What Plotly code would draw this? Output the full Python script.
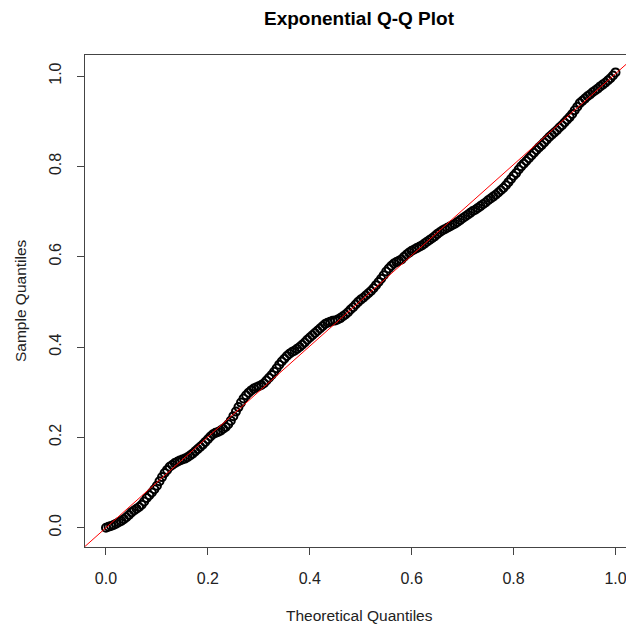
import plotly.graph_objects as go

# Theoretical quantiles (x) and sorted sample quantiles (y)
theoretical = [
    0.000, 0.005, 0.010, 0.015, 0.020, 0.025, 0.030, 0.035, 0.040, 0.045,
    0.050, 0.055, 0.060, 0.065, 0.070, 0.075, 0.080, 0.085, 0.090, 0.095,
    0.100, 0.105, 0.110, 0.115, 0.120, 0.125, 0.130, 0.135, 0.140, 0.145,
    0.150, 0.155, 0.160, 0.165, 0.170, 0.175, 0.180, 0.185, 0.190, 0.195,
    0.200, 0.205, 0.210, 0.215, 0.220, 0.225, 0.230, 0.235, 0.240, 0.245,
    0.250, 0.255, 0.260, 0.265, 0.270, 0.275, 0.280, 0.285, 0.290, 0.295,
    0.300, 0.305, 0.310, 0.315, 0.320, 0.325, 0.330, 0.335, 0.340, 0.345,
    0.350, 0.355, 0.360, 0.365, 0.370, 0.375, 0.380, 0.385, 0.390, 0.395,
    0.400, 0.405, 0.410, 0.415, 0.420, 0.425, 0.430, 0.435, 0.440, 0.445,
    0.450, 0.455, 0.460, 0.465, 0.470, 0.475, 0.480, 0.485, 0.490, 0.495,
    0.500, 0.505, 0.510, 0.515, 0.520, 0.525, 0.530, 0.535, 0.540, 0.545,
    0.550, 0.555, 0.560, 0.565, 0.570, 0.575, 0.580, 0.585, 0.590, 0.595,
    0.600, 0.605, 0.610, 0.615, 0.620, 0.625, 0.630, 0.635, 0.640, 0.645,
    0.650, 0.655, 0.660, 0.665, 0.670, 0.675, 0.680, 0.685, 0.690, 0.695,
    0.700, 0.705, 0.710, 0.715, 0.720, 0.725, 0.730, 0.735, 0.740, 0.745,
    0.750, 0.755, 0.760, 0.765, 0.770, 0.775, 0.780, 0.785, 0.790, 0.795,
    0.800, 0.805, 0.810, 0.815, 0.820, 0.825, 0.830, 0.835, 0.840, 0.845,
    0.850, 0.855, 0.860, 0.865, 0.870, 0.875, 0.880, 0.885, 0.890, 0.895,
    0.900, 0.905, 0.910, 0.915, 0.920, 0.925, 0.930, 0.935, 0.940, 0.945,
    0.950, 0.955, 0.960, 0.965, 0.970, 0.975, 0.980, 0.985, 0.990, 0.995,
    1.000,
]
sample = [
    0.000, 0.002, 0.004, 0.006, 0.009, 0.012, 0.015, 0.019, 0.023, 0.028,
    0.034, 0.038, 0.042, 0.046, 0.051, 0.058, 0.066, 0.072, 0.078, 0.085,
    0.093, 0.103, 0.112, 0.121, 0.128, 0.135, 0.139, 0.143, 0.146, 0.149,
    0.151, 0.153, 0.156, 0.160, 0.164, 0.169, 0.174, 0.179, 0.184, 0.190,
    0.196, 0.202, 0.207, 0.210, 0.212, 0.215, 0.219, 0.223, 0.229, 0.237,
    0.247, 0.257, 0.267, 0.277, 0.286, 0.293, 0.299, 0.304, 0.308, 0.311,
    0.313, 0.316, 0.320, 0.326, 0.332, 0.338, 0.345, 0.353, 0.361, 0.368,
    0.374, 0.380, 0.385, 0.389, 0.392, 0.396, 0.400, 0.405, 0.410, 0.416,
    0.421, 0.426, 0.431, 0.436, 0.441, 0.446, 0.451, 0.454, 0.456, 0.458,
    0.459, 0.461, 0.464, 0.468, 0.472, 0.477, 0.483, 0.488, 0.494, 0.500,
    0.505, 0.509, 0.514, 0.519, 0.524, 0.530, 0.537, 0.544, 0.551, 0.559,
    0.567, 0.574, 0.580, 0.585, 0.588, 0.591, 0.594, 0.600, 0.605, 0.609,
    0.613, 0.616, 0.619, 0.622, 0.625, 0.629, 0.633, 0.637, 0.641, 0.645,
    0.650, 0.654, 0.658, 0.661, 0.664, 0.667, 0.670, 0.673, 0.677, 0.681,
    0.685, 0.689, 0.693, 0.697, 0.701, 0.704, 0.708, 0.712, 0.716, 0.720,
    0.725, 0.729, 0.733, 0.737, 0.742, 0.747, 0.752, 0.758, 0.765, 0.772,
    0.779, 0.785, 0.793, 0.800, 0.806, 0.812, 0.818, 0.824, 0.830, 0.836,
    0.842, 0.847, 0.853, 0.859, 0.865, 0.870, 0.875, 0.880, 0.886, 0.891,
    0.897, 0.903, 0.909, 0.916, 0.924, 0.932, 0.940, 0.945, 0.950, 0.955,
    0.959, 0.964, 0.968, 0.972, 0.977, 0.981, 0.985, 0.990, 0.995, 1.001,
    1.008,
]

# Reference line y = intercept + slope * x
line_intercept = 0.0
line_slope = 1.005

tick_values = [0.0, 0.2, 0.4, 0.6, 0.8, 1.0]
tick_labels = ["0.0", "0.2", "0.4", "0.6", "0.8", "1.0"]

x_range = [-0.0412, 1.0206]
y_range = [-0.0427, 1.0465]

FONT = "Liberation Sans, Arial, sans-serif"

fig = go.Figure()

fig.add_trace(go.Scatter(
    x=theoretical, y=sample, mode="markers",
    marker=dict(symbol="circle-open", size=8, color="black",
                line=dict(color="black", width=2)),
    showlegend=False, hoverinfo="skip",
))

line_x = list(x_range)
line_y = [line_intercept + line_slope * v for v in line_x]
fig.add_trace(go.Scatter(
    x=line_x, y=line_y, mode="lines",
    line=dict(color="#ff0000", width=1),
    showlegend=False, hoverinfo="skip",
))

axis_common = dict(
    showgrid=False, zeroline=False, showline=True, linecolor="#444",
    linewidth=1, ticks="outside", ticklen=7, tickwidth=1, tickcolor="#444",
    tickvals=tick_values, ticktext=tick_labels,
    tickfont=dict(family=FONT, size=16, color="#222"),
    ticklabeloverflow="allow",
)

fig.update_layout(
    width=626, height=624,
    margin=dict(l=85, r=0, t=55, b=77),
    paper_bgcolor="white", plot_bgcolor="white",
    xaxis=dict(range=x_range, mirror=True, ticklabelstandoff=10, **axis_common),
    yaxis=dict(range=y_range, mirror=False, tickangle=-90,
               ticklabelstandoff=10, **axis_common),
    annotations=[
        dict(text="<b>Exponential Q-Q Plot</b>", xref="paper", yref="paper",
             x=0.508, y=1, yshift=37, showarrow=False, xanchor="center",
             yanchor="middle", font=dict(family=FONT, size=19, color="black")),
        dict(text="Theoretical Quantiles", xref="paper", yref="paper",
             x=0.508, y=0, yshift=-68, showarrow=False, xanchor="center",
             yanchor="middle", font=dict(family=FONT, size=15.5, color="#222")),
        dict(text="Sample Quantiles", xref="paper", yref="paper",
             x=0, y=0.5, xshift=-65, textangle=-90, showarrow=False,
             xanchor="center", yanchor="middle",
             font=dict(family=FONT, size=15.5, color="#222")),
    ],
)

fig.write_html("out.html")
